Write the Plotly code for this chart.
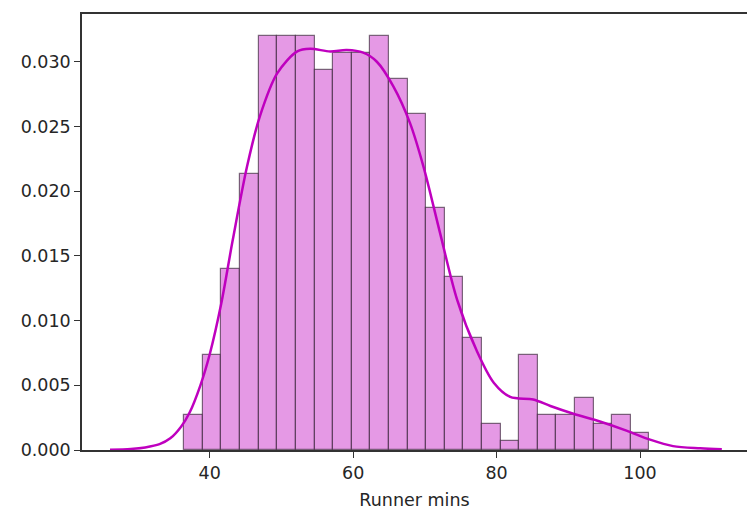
import numpy as np
import plotly.graph_objects as go

# Histogram (density) data
bin_start = 36.45
bin_width = 2.594
densities = [0.00267, 0.00733, 0.0140, 0.02133, 0.0320, 0.0320, 0.0320, 0.02933,
             0.03067, 0.03067, 0.0320, 0.02867, 0.0260, 0.01867, 0.01333, 0.00867,
             0.0020, 0.000667, 0.00733, 0.00267, 0.00267, 0.0040, 0.0020, 0.00267,
             0.00133]

# KDE curve
kde_x = [26.1, 29.0, 31.0, 33.0, 34.5, 36.0, 37.2, 38.7, 40.0, 41.6, 43.2, 45.2, 47.0,
         49.4, 52.2, 54.0, 56.8, 59.1, 61.4, 63.3, 65.6, 67.9, 69.8, 72.1, 74.5,
         77.2, 79.6, 81.9, 85.1, 87.5, 90.7, 94.4, 98.1, 101.4, 104.6, 108.4, 111.4]
kde_y = [0.00002, 0.00008, 0.0002, 0.00045, 0.0009, 0.0018, 0.0029, 0.0050, 0.0074,
         0.0113, 0.0162, 0.0219, 0.0258, 0.0291, 0.0308, 0.0310, 0.0308, 0.0309,
         0.0307, 0.0300, 0.0281, 0.0253, 0.0219, 0.0168, 0.0116, 0.0077, 0.0052,
         0.0041, 0.0039, 0.0034, 0.0028, 0.0022, 0.0015, 0.0008, 0.0003, 0.00013,
         0.00005]

x_ticks = [40, 60, 80, 100]
y_ticks = [0.000, 0.005, 0.010, 0.015, 0.020, 0.025, 0.030]
x_label = "Runner mins"

centers = bin_start + bin_width * (np.arange(len(densities)) + 0.5)

fig = go.Figure()
fig.add_trace(go.Bar(
    x=centers, y=densities, width=bin_width,
    marker=dict(color="rgb(229,153,229)", line=dict(color="rgba(40,20,40,0.6)", width=1.2)),
    showlegend=False, hoverinfo="skip",
))
fig.add_trace(go.Scatter(
    x=kde_x, y=kde_y, mode="lines",
    line=dict(color="rgb(191,0,191)", width=2.5, shape="spline", smoothing=0.9),
    showlegend=False,
))

axis_font = dict(family="DejaVu Sans", size=17.5, color="#262626")
fig.update_layout(
    width=747, height=512,
    margin=dict(l=82, r=0, t=14, b=62),
    paper_bgcolor="white", plot_bgcolor="white",
    bargap=0,
    font=axis_font,
    xaxis=dict(
        range=[22.19, 114.91], tickvals=x_ticks, ticktext=[str(v) for v in x_ticks],
        showgrid=False, zeroline=False, showline=True, mirror=True,
        linecolor="#333", linewidth=1.5, ticks="outside", ticklen=6, tickcolor="#333",
        tickwidth=1.3, tickfont=axis_font,
        title=dict(text=x_label, font=axis_font, standoff=12),
    ),
    yaxis=dict(
        range=[0, 0.03369], tickvals=y_ticks, tickformat=".3f",
        showgrid=False, zeroline=False, showline=True, mirror=False,
        linecolor="#333", linewidth=1.5, ticks="outside", ticklen=6, tickcolor="#333",
        tickwidth=1.3, tickfont=axis_font,
    ),
)

fig.write_html("out.html", config={"displayModeBar": False},
               post_script="document.body.style.margin='0';document.body.style.overflow='hidden';")
